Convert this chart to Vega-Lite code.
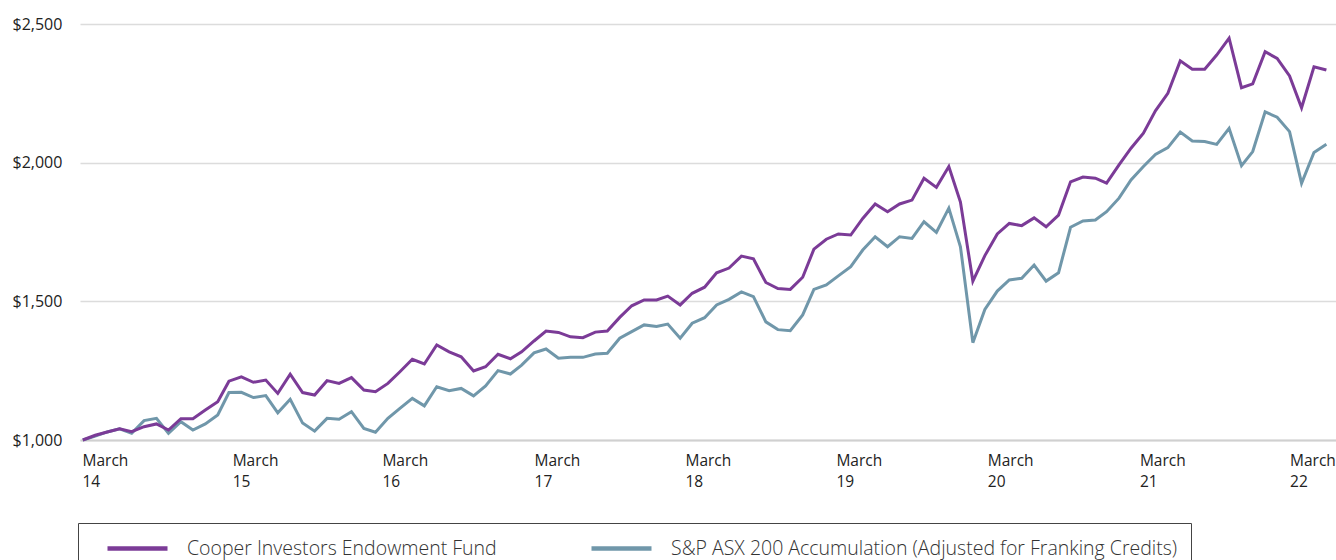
{
  "$schema": "https://vega.github.io/schema/vega-lite/v6.json",
  "autosize": "none",
  "width": 1256,
  "height": 416,
  "padding": {"left": 80, "top": 24, "right": 0, "bottom": 120},
  "background": "white",
  "config": {"view": {"stroke": null}, "font": "Open Sans"},
  "data": {"values": [
    {"d":"2014-03","f":1000,"b":1000},
    {"d":"2014-04","f":1017,"b":1014},
    {"d":"2014-05","f":1029,"b":1029},
    {"d":"2014-06","f":1040,"b":1040},
    {"d":"2014-07","f":1030,"b":1024},
    {"d":"2014-08","f":1048,"b":1070},
    {"d":"2014-09","f":1058,"b":1078},
    {"d":"2014-10","f":1036,"b":1024},
    {"d":"2014-11","f":1077,"b":1066},
    {"d":"2014-12","f":1077,"b":1036},
    {"d":"2015-01","f":1108,"b":1058},
    {"d":"2015-02","f":1138,"b":1090},
    {"d":"2015-03","f":1212,"b":1171},
    {"d":"2015-04","f":1228,"b":1172},
    {"d":"2015-05","f":1208,"b":1153},
    {"d":"2015-06","f":1216,"b":1160},
    {"d":"2015-07","f":1168,"b":1098},
    {"d":"2015-08","f":1237,"b":1147},
    {"d":"2015-09","f":1171,"b":1061},
    {"d":"2015-10","f":1162,"b":1032},
    {"d":"2015-11","f":1214,"b":1078},
    {"d":"2015-12","f":1204,"b":1075},
    {"d":"2016-01","f":1225,"b":1102},
    {"d":"2016-02","f":1180,"b":1042},
    {"d":"2016-03","f":1174,"b":1028},
    {"d":"2016-04","f":1204,"b":1078},
    {"d":"2016-05","f":1246,"b":1114},
    {"d":"2016-06","f":1291,"b":1150},
    {"d":"2016-07","f":1274,"b":1123},
    {"d":"2016-08","f":1343,"b":1192},
    {"d":"2016-09","f":1318,"b":1178},
    {"d":"2016-10","f":1300,"b":1186},
    {"d":"2016-11","f":1249,"b":1159},
    {"d":"2016-12","f":1264,"b":1195},
    {"d":"2017-01","f":1309,"b":1250},
    {"d":"2017-02","f":1293,"b":1238},
    {"d":"2017-03","f":1318,"b":1270},
    {"d":"2017-04","f":1357,"b":1314},
    {"d":"2017-05","f":1393,"b":1328},
    {"d":"2017-06","f":1388,"b":1295},
    {"d":"2017-07","f":1372,"b":1298},
    {"d":"2017-08","f":1369,"b":1298},
    {"d":"2017-09","f":1389,"b":1310},
    {"d":"2017-10","f":1393,"b":1313},
    {"d":"2017-11","f":1442,"b":1367},
    {"d":"2017-12","f":1484,"b":1391},
    {"d":"2018-01","f":1505,"b":1415},
    {"d":"2018-02","f":1505,"b":1409},
    {"d":"2018-03","f":1519,"b":1418},
    {"d":"2018-04","f":1487,"b":1367},
    {"d":"2018-05","f":1529,"b":1421},
    {"d":"2018-06","f":1551,"b":1441},
    {"d":"2018-07","f":1603,"b":1487},
    {"d":"2018-08","f":1620,"b":1507},
    {"d":"2018-09","f":1663,"b":1534},
    {"d":"2018-10","f":1653,"b":1517},
    {"d":"2018-11","f":1568,"b":1426},
    {"d":"2018-12","f":1546,"b":1398},
    {"d":"2019-01","f":1543,"b":1394},
    {"d":"2019-02","f":1587,"b":1451},
    {"d":"2019-03","f":1688,"b":1543},
    {"d":"2019-04","f":1724,"b":1559},
    {"d":"2019-05","f":1743,"b":1592},
    {"d":"2019-06","f":1739,"b":1625},
    {"d":"2019-07","f":1799,"b":1685},
    {"d":"2019-08","f":1851,"b":1733},
    {"d":"2019-09","f":1823,"b":1697},
    {"d":"2019-10","f":1851,"b":1733},
    {"d":"2019-11","f":1865,"b":1727},
    {"d":"2019-12","f":1944,"b":1787},
    {"d":"2020-01","f":1911,"b":1749},
    {"d":"2020-02","f":1986,"b":1836},
    {"d":"2020-03","f":1858,"b":1697},
    {"d":"2020-04","f":1573,"b":1351},
    {"d":"2020-05","f":1665,"b":1471},
    {"d":"2020-06","f":1743,"b":1537},
    {"d":"2020-07","f":1781,"b":1577},
    {"d":"2020-08","f":1773,"b":1583},
    {"d":"2020-09","f":1801,"b":1631},
    {"d":"2020-10","f":1769,"b":1573},
    {"d":"2020-11","f":1811,"b":1603},
    {"d":"2020-12","f":1931,"b":1767},
    {"d":"2021-01","f":1948,"b":1790},
    {"d":"2021-02","f":1944,"b":1793},
    {"d":"2021-03","f":1926,"b":1823},
    {"d":"2021-04","f":1992,"b":1872},
    {"d":"2021-05","f":2052,"b":1938},
    {"d":"2021-06","f":2106,"b":1986},
    {"d":"2021-07","f":2187,"b":2030},
    {"d":"2021-08","f":2250,"b":2054},
    {"d":"2021-09","f":2367,"b":2110},
    {"d":"2021-10","f":2337,"b":2078},
    {"d":"2021-11","f":2337,"b":2076},
    {"d":"2021-12","f":2388,"b":2066},
    {"d":"2022-01","f":2449,"b":2124},
    {"d":"2022-02","f":2270,"b":1989},
    {"d":"2022-03","f":2284,"b":2040},
    {"d":"2022-04","f":2400,"b":2183},
    {"d":"2022-05","f":2376,"b":2164},
    {"d":"2022-06","f":2313,"b":2112},
    {"d":"2022-07","f":2198,"b":1926},
    {"d":"2022-08","f":2346,"b":2037},
    {"d":"2022-09","f":2334,"b":2066}
  ]},
  "transform": [{"fold": ["b", "f"], "as": ["series", "value"]}],
  "mark": {"type": "line", "strokeWidth": 3, "strokeJoin": "miter", "clip": false},
  "encoding": {
    "x": {
      "field": "d",
      "type": "temporal",
      "scale": {
        "type": "utc",
        "domain": [
          {"year": 2014, "month": 2, "date": 22, "utc": true},
          {"year": 2022, "month": 9, "date": 25, "utc": true}
        ]
      },
      "axis": {
        "title": null,
        "values": [
          {"year": 2014, "month": 2, "date": 27, "utc": true},
          {"year": 2015, "month": 3, "date": 9, "utc": true},
          {"year": 2016, "month": 3, "date": 17, "utc": true},
          {"year": 2017, "month": 4, "date": 1, "utc": true},
          {"year": 2018, "month": 4, "date": 13, "utc": true},
          {"year": 2019, "month": 4, "date": 25, "utc": true},
          {"year": 2020, "month": 5, "date": 7, "utc": true},
          {"year": 2021, "month": 5, "date": 22, "utc": true},
          {"year": 2022, "month": 6, "date": 1, "utc": true}
        ],
        "labelExpr": "['March', utcFormat(datum.value, '%y')]",
        "labelAlign": "left",
        "labelBaseline": "top",
        "labelPadding": 13,
        "labelLineHeight": 21,
        "labelFontSize": 15.5,
        "labelFont": "Open Sans",
        "labelColor": "#222222",
        "labelOverlap": false,
        "labelFlush": false,
        "labelBound": false,
        "ticks": false,
        "tickSize": 0,
        "grid": false,
        "domain": true,
        "domainColor": "#d0d0d0",
        "domainWidth": 2
      }
    },
    "y": {
      "field": "value",
      "type": "quantitative",
      "scale": {"domain": [1000, 2500], "nice": false, "zero": false},
      "axis": {
        "title": null,
        "values": [1000, 1500, 2000, 2500],
        "format": "$,.0f",
        "labelAlign": "left",
        "labelBaseline": "middle",
        "labelPadding": 68,
        "labelFontSize": 16,
        "labelFont": "Open Sans",
        "labelColor": "#222222",
        "ticks": false,
        "tickSize": 0,
        "domain": false,
        "grid": true,
        "gridColor": "#dcdcdc",
        "gridWidth": 1.5
      }
    },
    "color": {
      "field": "series",
      "type": "nominal",
      "scale": {"domain": ["f", "b"], "range": ["#7b3b97", "#7097aa"]},
      "legend": {
        "title": null,
        "orient": "none",
        "legendX": -2,
        "legendY": 499,
        "direction": "horizontal",
        "columns": 2,
        "strokeColor": "#444444",
        "padding": 13,
        "symbolType": "M0.4,0H6.4",
        "symbolSize": 400,
        "symbolStrokeWidth": 4.5,
        "labelFont": "Open Sans",
        "labelFontSize": 19.5,
        "labelFontWeight": 300,
        "labelColor": "#333333",
        "labelOffset": 71,
        "labelLimit": 1000,
        "columnPadding": 78,
        "labelExpr": "datum.value == 'f' ? 'Cooper Investors Endowment Fund' : 'S&P ASX 200 Accumulation (Adjusted for Franking Credits)'"
      }
    }
  }
}
